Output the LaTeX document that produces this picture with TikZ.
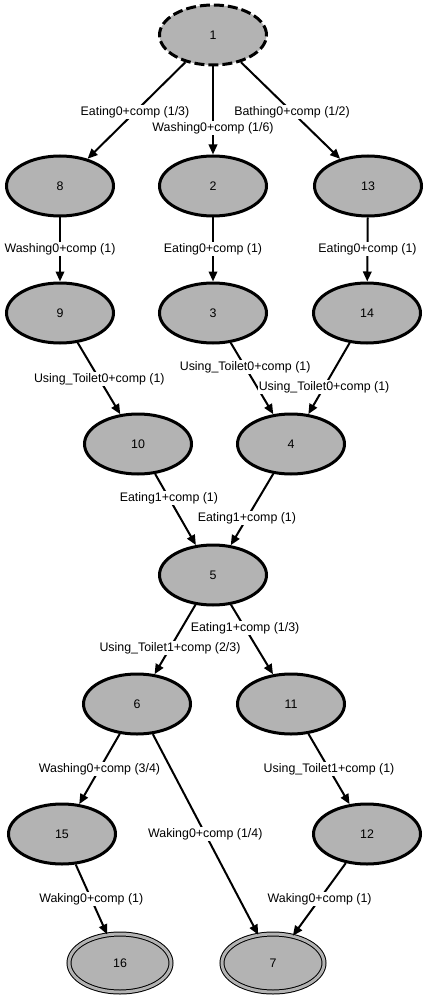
\documentclass[tikz,border=0pt]{standalone}
\usepackage{fontspec}
\setmainfont{Liberation Sans}
\usetikzlibrary{shapes.geometric,arrows.meta,calc}
\definecolor{nodegray}{RGB}{179,179,179}
\tikzset{
  st/.style={ellipse, draw=black, fill=nodegray, line width=3pt,
    minimum width=107pt, minimum height=60pt, inner sep=0pt,
    font=\fontsize{12.4}{14}\selectfont},
  initst/.style={st, dash pattern=on 10pt off 4pt},
  finst/.style={ellipse, draw=black, fill=nodegray, line width=1pt,
    double=nodegray, double distance=3pt,
    minimum width=102pt, minimum height=58pt, inner sep=0pt,
    font=\fontsize{12.4}{14}\selectfont},
  edge/.style={line width=2pt, -{Triangle[length=10pt,width=8.5pt]}},
  lbl/.style={fill=white, inner sep=1pt, font=\fontsize{12.4}{14}\selectfont}
}
\begin{document}
\begin{tikzpicture}[x=1pt,y=-1pt]
\useasboundingbox[fill=white] (0,0) rectangle (427,1000);
% nodes
\node[initst] (n1) at (213,35) {1};
\node[st] (n8) at (60,186) {8};
\node[st] (n2) at (213,186) {2};
\node[st] (n13) at (368,186) {13};
\node[st] (n9) at (60,313) {9};
\node[st] (n3) at (213,313) {3};
\node[st] (n14) at (367,313) {14};
\node[st] (n10) at (138,444) {10};
\node[st] (n4) at (291,444) {4};
\node[st] (n5) at (213,575) {5};
\node[st] (n6) at (137,704) {6};
\node[st] (n11) at (291,704) {11};
\node[st] (n15) at (62,834) {15};
\node[st] (n12) at (367,834) {12};
\node[finst] (n16) at (120,963) {16};
\node[finst] (n7) at (273,963) {7};
% edges
\draw[edge] (n1) -- (n8);
\draw[edge] (n1) -- (n2);
\draw[edge] (n1) -- (n13);
\draw[edge] (n8) -- (n9);
\draw[edge] (n2) -- (n3);
\draw[edge] (n13) -- (n14);
\draw[edge] (n9) -- (n10);
\draw[edge] (n3) -- (n4);
\draw[edge] (n14) -- (n4);
\draw[edge] (n10) -- (n5);
\draw[edge] (n4) -- (n5);
\draw[edge] (n5) -- (n6);
\draw[edge] (n5) -- (n11);
\draw[edge] (n6) -- (n15);
\draw[edge] (n6) -- (n7);
\draw[edge] (n11) -- (n12);
\draw[edge] (n15) -- (n16);
\draw[edge] (n12) -- (n7);
% labels
\node[lbl] (l18) at ($(n1.center)!0.51!(n8.center)$) {Eating0+comp (1/3)};
\node[lbl] (l12) at ($(n1.center)!0.616!(n2.center)$) {Washing0+comp (1/6)};
\node[lbl] (l113) at ($(n1.center)!0.51!(n13.center)$) {Bathing0+comp (1/2)};
\node[lbl] (l89) at ($(n8.center)!0.496!(n9.center)$) {Washing0+comp (1)};
\node[lbl] (l23) at ($(n2.center)!0.496!(n3.center)$) {Eating0+comp (1)};
\node[lbl] (l1314) at ($(n13.center)!0.496!(n14.center)$) {Eating0+comp (1)};
\node[lbl] (l910) at ($(n9.center)!0.504!(n10.center)$) {Using\_Toilet0+comp (1)};
\node[lbl] (l34) at ($(n3.center)!0.412!(n4.center)$) {Using\_Toilet0+comp (1)};
\node[lbl] (l144) at ($(n14.center)!0.565!(n4.center)$) {Using\_Toilet0+comp (1)};
\node[lbl] (l105) at ($(n10.center)!0.412!(n5.center)$) {Eating1+comp (1)};
\node[lbl] (l45) at ($(n4.center)!0.565!(n5.center)$) {Eating1+comp (1)};
\node[lbl] (l56) at ($(n5.center)!0.566!(n6.center)$) {Using\_Toilet1+comp (2/3)};
\node[lbl] (l511) at ($(n5.center)!0.411!(n11.center)$) {Eating1+comp (1/3)};
\node[lbl] (l615) at ($(n6.center)!0.5!(n15.center)$) {Washing0+comp (3/4)};
\node[lbl] (l67) at ($(n6.center)!0.502!(n7.center)$) {Waking0+comp (1/4)};
\node[lbl] (l1112) at ($(n11.center)!0.5!(n12.center)$) {Using\_Toilet1+comp (1)};
\node[lbl] (l1516) at ($(n15.center)!0.504!(n16.center)$) {Waking0+comp (1)};
\node[lbl] (l127) at ($(n12.center)!0.504!(n7.center)$) {Waking0+comp (1)};
\end{tikzpicture}
\end{document}
